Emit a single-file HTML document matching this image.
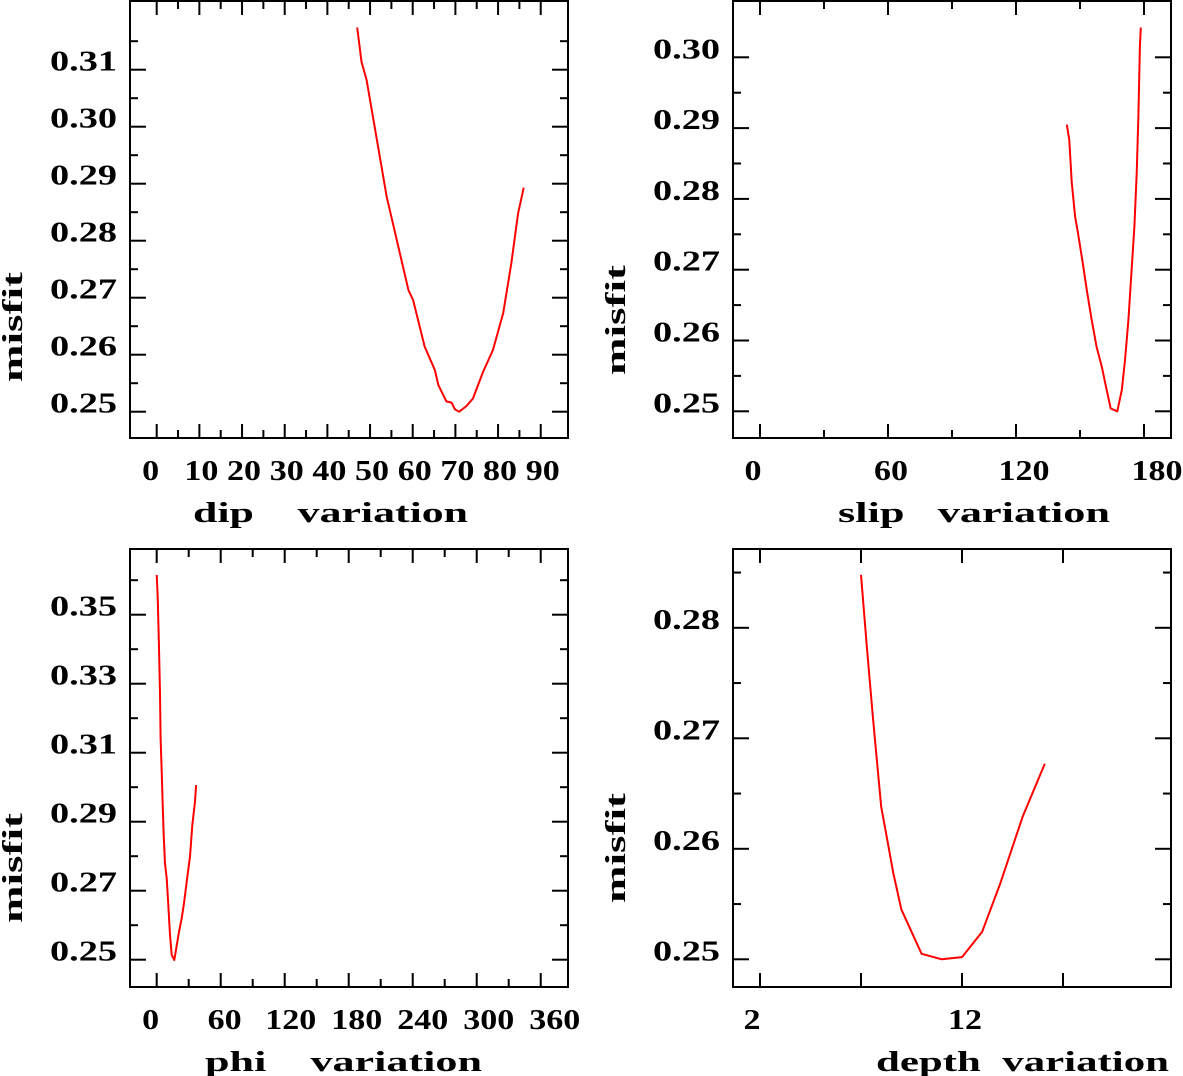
<!DOCTYPE html>
<html><head><meta charset="utf-8"><style>
html,body{margin:0;padding:0;background:#fff;}
svg{display:block;}
text{font-family:"Liberation Serif",serif;font-weight:bold;fill:#000;}
</style></head><body>
<svg id="chart" width="1183" height="1076" viewBox="0 0 1183 1076"></svg>
<script>
// ---- data ----
const dipX = [47,48,49.2,53.9,59,60.1,62.8,65.2,66,67.9,69.1,69.9,70.9,72.6,74.1,76.5,78.8,81.2,83.1,84.7,86];
const dipY = [0.3174,0.3114,0.3082,0.2877,0.2713,0.2696,0.2614,0.2573,0.2547,0.2518,0.2516,0.2504,0.2500,0.2510,0.2523,0.2570,0.2608,0.2673,0.2760,0.2848,0.2893];
const slipX = [143.8,145,146.1,147.7,149.2,151.3,153.2,155.5,157.8,160.2,162.5,164.4,167.5,169.6,171.1,172.7,174.3,175.5,176.6,177.4,178.1,178.5];
const slipY = [0.2905,0.2883,0.2824,0.2775,0.2749,0.2709,0.2671,0.2629,0.2591,0.2563,0.2530,0.2504,0.2500,0.2530,0.2572,0.2629,0.2704,0.2761,0.2836,0.2918,0.3015,0.3042];
const phiX = [0,0.9,2.1,3.1,3.7,4.7,5.6,6.6,7.8,9.4,10.9,12.5,14.1,16.5,18.8,20.9,23.4,25.6,28.1,31.2,33.4,35.9,36.9];
const phiY = [0.3615,0.3552,0.3417,0.3272,0.3142,0.3045,0.2948,0.2861,0.2779,0.2736,0.2659,0.2572,0.2514,0.2499,0.2543,0.2581,0.2620,0.2664,0.2726,0.2799,0.2890,0.2958,0.3006];
const depthX = [7,7.3,7.6,8.0,8.3,8.6,9.0,10,11,12,13,13.9,15,16.1];
const depthY = [0.2848,0.2780,0.2717,0.2638,0.2608,0.2578,0.2545,0.2505,0.2500,0.2502,0.2525,0.2569,0.2629,0.2677];
const dipTickLabels = [0,10,20,30,40,50,60,70,80,90];
const slipTickLabels = [0,60,120,180];
const phiTickLabels = [0,60,120,180,240,300,360];
const depthTickLabels = [2,12];
const dipYLabels = [0.25,0.26,0.27,0.28,0.29,0.30,0.31];
const slipYLabels = [0.25,0.26,0.27,0.28,0.29,0.30];
const phiYLabels = [0.25,0.27,0.29,0.31,0.33,0.35];
const depthYLabels = [0.25,0.26,0.27,0.28];

const NS="http://www.w3.org/2000/svg";
const svg=document.getElementById('chart');
function mk(tag,attrs,parent){const e=document.createElementNS(NS,tag);for(const k in attrs)e.setAttribute(k,attrs[k]);(parent||svg).appendChild(e);return e;}

function panel(p){
  const g=mk('g',{});
  
  
  const sx=v=>p.x0px+(v-p.x0)*p.xs;
  const sy=v=>p.y0px-(v-p.y0)*p.ys;
  const L=p.L,R=p.R,T=p.T,B=p.B;
  const frame=mk('rect',{x:L,y:T,width:R-L,height:B-T,fill:'none',stroke:'#000','stroke-width':2},g);
  
  
  for(let v=p.xt0;v<=p.xt1+1e-9;v+=p.xstep){
    const X=sx(v);
    const major=p.xmajor(v);const len=major?14:8;
    mk('line',{x1:X,x2:X,y1:B,y2:B-len,stroke:'#000','stroke-width':2},g);
    mk('line',{x1:X,x2:X,y1:T,y2:T+len,stroke:'#000','stroke-width':2},g);
  }
  for(let i=0;;i++){
    const v=p.yt0+i*p.ystep; if(v>p.yt1+1e-9)break;
    const Y=sy(v);
    const major=(i%p.ymajorEvery)===0;const len=major?16:8;
    mk('line',{x1:L,x2:L+len,y1:Y,y2:Y,stroke:'#000','stroke-width':2},g);
    mk('line',{x1:R,x2:R-len,y1:Y,y2:Y,stroke:'#000','stroke-width':2},g);
  }
  p.xlabels.forEach(v=>{
    const s=String(v);
    const w=s.length*17;
    const t=mk('text',{x:sx(v)+p.xlabOff(v)-w/2,y:B+42,'font-size':28,textLength:w,lengthAdjust:'spacingAndGlyphs'},g);
    t.textContent=s;
    
    
  });
  p.ylabels.forEach(v=>{
    const t=mk('text',{x:L-80,y:sy(v)+1,'font-size':28,textLength:67,lengthAdjust:'spacingAndGlyphs'},g);
    t.textContent=v.toFixed(2);
    
    
  });
  const xt=mk('text',{x:p.xtitleX,y:B+84,'font-size':28,textLength:p.xtitleW,lengthAdjust:'spacingAndGlyphs'},g);
  xt.textContent=p.xtitle;
  xt.setAttribute('xml:space','preserve');
  xt.style.whiteSpace='pre';
  
  
  const yt=mk('text',{x:-55,y:0,'font-size':28,textLength:110,lengthAdjust:'spacingAndGlyphs',transform:`translate(${p.ytitleX},${p.ytitleY}) rotate(-90)`},g);
  yt.textContent='misfit';
  
  
  const pts=p.xs_data.map((v,i)=>sx(v).toFixed(1)+','+sy(p.ys_data[i]).toFixed(1)).join(' ');
  const line=mk('polyline',{points:pts,fill:'none',stroke:'#ff0000','stroke-width':2,'stroke-linejoin':'round'},g);
  
  
}

panel({name:'dip',L:130,R:568,T:1,B:438,x0:0,x0px:156.7,xs:4.267,y0:0.25,y0px:411.7,ys:5700,
  xt0:0,xt1:90,xstep:5,xmajor:v=>Math.round(v)%10===0,yt0:0.25,yt1:0.3151,ystep:0.005,ymajorEvery:2,
  xlabels:dipTickLabels,xlabOff:v=>v===0?-6:2,ylabels:dipYLabels,xtitle:'dip    variation',xtitleX:193,xtitleW:275,ytitleX:22,ytitleY:327,
  xs_data:dipX,ys_data:dipY});
panel({name:'slip',L:733,R:1171,T:1,B:438,x0:0,x0px:760,xs:2.1333,y0:0.25,y0px:411.3,ys:7080,
  xt0:0,xt1:180,xstep:30,xmajor:v=>Math.round(v)%60===0,yt0:0.25,yt1:0.3001,ystep:0.005,ymajorEvery:2,
  xlabels:slipTickLabels,xlabOff:v=>v===0?-7:(v===60?3:(v===120?8:13)),ylabels:slipYLabels,xtitle:'slip   variation',xtitleX:838,xtitleW:272,ytitleX:625,ytitleY:320,
  xs_data:slipX,ys_data:slipY});
panel({name:'phi',L:130,R:568,T:549,B:987,x0:0,x0px:156.7,xs:1.0667,y0:0.25,y0px:959.7,ys:3450,
  xt0:0,xt1:360,xstep:30,xmajor:v=>Math.round(v)%60===0,yt0:0.25,yt1:0.3601,ystep:0.01,ymajorEvery:2,
  xlabels:phiTickLabels,xlabOff:v=>v===0?-6:(v/60)*2+2,ylabels:phiYLabels,xtitle:'phi    variation',xtitleX:205,xtitleW:277,ytitleX:22,ytitleY:868,
  xs_data:phiX,ys_data:phiY});
panel({name:'depth',L:733,R:1171,T:549,B:987,x0:2,x0px:760,xs:20.2,y0:0.25,y0px:959.3,ys:11050,
  xt0:2,xt1:17,xstep:5,xmajor:v=>true,yt0:0.25,yt1:0.2851,ystep:0.005,ymajorEvery:2,
  xlabels:depthTickLabels,xlabOff:v=>v===2?-8:3,ylabels:depthYLabels,xtitle:'depth  variation',xtitleX:876,xtitleW:293,ytitleX:625,ytitleY:848,
  xs_data:depthX,ys_data:depthY});
</script>
</body></html>
